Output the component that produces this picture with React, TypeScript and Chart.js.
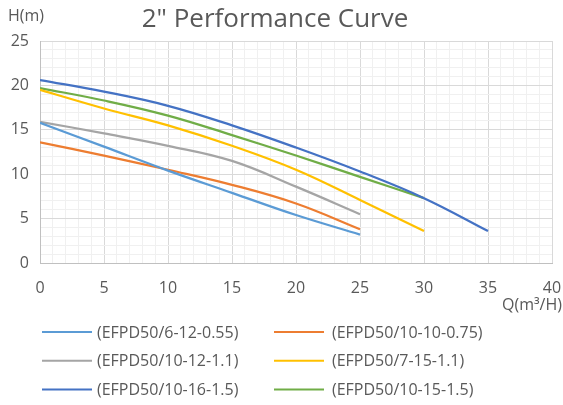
import { useEffect, useRef } from 'react';
import { Chart, registerables } from 'chart.js';
Chart.register(...registerables);

const TITLE = '2" Performance Curve';
const Y_TITLE = 'H(m)';
const X_TITLE = 'Q(m³/H)';

const flow = [0, 5, 10, 15, 20, 25, 30, 35];

const names = [
  '(EFPD50/6-12-0.55)',
  '(EFPD50/10-10-0.75)',
  '(EFPD50/10-12-1.1)',
  '(EFPD50/7-15-1.1)',
  '(EFPD50/10-16-1.5)',
  '(EFPD50/10-15-1.5)',
];
const colors = ['#5B9BD5', '#ED7D31', '#A5A5A5', '#FFC000', '#4472C4', '#70AD47'];

const head1 = [15.8, 13.1, 10.4, 7.9, 5.4, 3.2];
const head2 = [13.6, 12.1, 10.5, 8.8, 6.7, 3.8];
const head3 = [15.9, 14.6, 13.2, 11.5, 8.6, 5.5];
const head4 = [19.5, 17.4, 15.5, 13.2, 10.5, 7.1, 3.6];
const head5 = [20.6, 19.3, 17.7, 15.5, 13.0, 10.3, 7.3, 3.6];
const head6 = [19.7, 18.3, 16.6, 14.4, 12.1, 9.7, 7.3];
const heads = [head1, head2, head3, head4, head5, head6];

const MAJOR = 5;
const FONT = '"Open Sans", sans-serif';
const TEXT = '#595959';

export default function App() {
  const ref = useRef<HTMLCanvasElement>(null);
  useEffect(() => {
    document.body.style.margin = '0';
    const textPlugin = {
      id: 'extraText',
      afterDraw(chart: any) {
        const ctx = chart.ctx;
        ctx.save();
        ctx.fillStyle = TEXT;
        ctx.textBaseline = 'middle';
        ctx.font = `26px ${FONT}`;
        ctx.textAlign = 'center';
        ctx.fillText(TITLE, 275, 20);
        ctx.font = `16px ${FONT}`;
        ctx.textAlign = 'left';
        ctx.fillText(Y_TITLE, 8, 16);
        ctx.textAlign = 'right';
        ctx.fillText(X_TITLE, 562, 305);
        ctx.textAlign = 'left';
        names.forEach((n, i) => {
          const col = i % 2;
          const row = Math.floor(i / 2);
          const x = col ? 274 : 42;
          const y = 332 + row * 28.7;
          ctx.strokeStyle = colors[i];
          ctx.lineWidth = 2;
          ctx.beginPath();
          ctx.moveTo(x, y);
          ctx.lineTo(x + 50, y);
          ctx.stroke();
          ctx.fillStyle = TEXT;
          ctx.fillText(n, x + (col ? 58 : 55), y + 1);
        });
        ctx.restore();
      },
    };
    const gridColor = (c: any) =>
      c.tick && c.tick.value % MAJOR === 0 ? '#d9d9d9' : '#f0f0f0';
    const chart = new Chart(ref.current!, {
      type: 'line',
      data: {
        datasets: heads.map((h, i) => ({
          label: names[i],
          data: h.map((v, j) => ({ x: flow[j], y: v })),
          borderColor: colors[i],
          backgroundColor: colors[i],
          borderWidth: 2.25,
          pointRadius: 0,
          tension: 0.4,
          fill: false,
        })),
      },
      options: {
        responsive: false,
        animation: false,
        devicePixelRatio: 1,
        layout: { padding: { top: 41, right: 11, left: 0, bottom: 0 } },
        plugins: { legend: { display: false }, tooltip: { enabled: false }, title: { display: false } },
        scales: {
          x: {
            type: 'linear',
            min: 0,
            max: 40,
            afterFit: (s: any) => {
              s.height = 142;
              s.paddingLeft = 0;
              s.paddingRight = 0;
            },
            ticks: {
              stepSize: 1,
              autoSkip: false,
              maxRotation: 0,
              color: TEXT,
              font: { family: FONT, size: 16 },
              padding: 16,
              callback: (v: any) => (v % MAJOR === 0 ? String(v) : ''),
            },
            grid: { color: gridColor, drawTicks: false },
            border: { color: '#c0c0c0' },
          },
          y: {
            min: 0,
            max: 25,
            afterFit: (s: any) => {
              s.width = 40;
              s.paddingTop = 0;
              s.paddingBottom = 0;
            },
            ticks: {
              stepSize: 1,
              autoSkip: false,
              color: TEXT,
              font: { family: FONT, size: 16 },
              padding: 11,
              callback: (v: any) => (v % MAJOR === 0 ? String(v) : ''),
            },
            grid: { color: gridColor, drawTicks: false },
            border: { color: '#c0c0c0' },
          },
        },
      },
      plugins: [textPlugin],
    });
    return () => chart.destroy();
  }, []);
  return <canvas ref={ref} width={563} height={405} style={{ display: 'block' }} />;
}
